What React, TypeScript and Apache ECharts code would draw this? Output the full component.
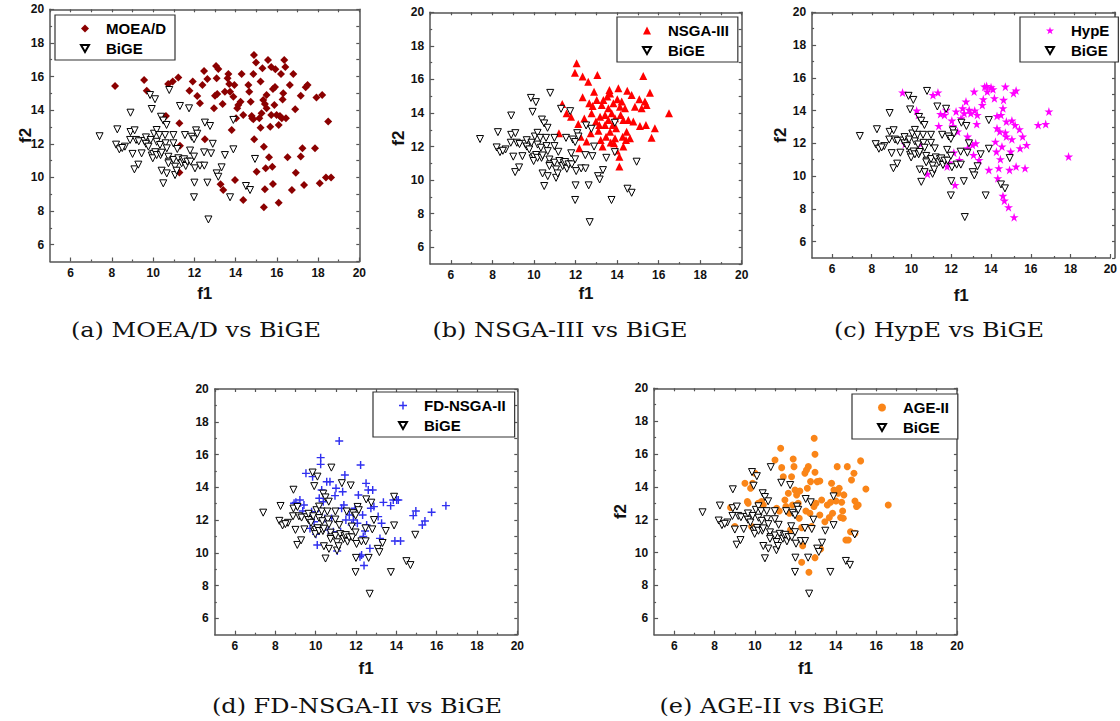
import React, { useEffect, useRef } from 'react';
import * as echarts from 'echarts';

// ---- data (f1, f2) ----
const bigeData: number[][] = [
  [7.4, 12.45], [8.9, 13.85], [8.26, 12.86], [8.2, 11.95], [8.36, 11.67], [8.63, 11.83], [8.5, 11.75],
  [8.88, 12.23], [8.9, 12.7], [9.1, 12.8], [9.0, 11.4], [9.09, 10.48], [9.28, 10.76], [9.17, 12.23],
  [9.3, 12.15], [9.44, 11.43], [9.57, 12.17], [9.65, 12.0], [9.65, 12.38], [9.77, 11.83], [9.85, 14.9],
  [9.93, 14.07], [10.09, 14.65], [9.88, 12.23], [10.04, 12.6], [10.17, 12.82], [9.93, 11.3], [10.0, 11.4],
  [10.1, 11.5], [9.98, 11.14], [10.17, 11.33], [10.36, 11.33], [10.17, 12.12], [10.3, 12.52], [10.33, 11.93],
  [10.38, 13.61], [10.49, 13.38], [10.65, 13.12], [10.41, 10.4], [10.49, 9.65], [10.41, 11.47], [10.6, 12.03],
  [10.58, 12.52], [10.66, 10.24], [10.74, 11.23], [10.77, 10.94], [10.74, 10.84], [10.66, 11.73], [10.78, 15.2],
  [10.98, 12.52], [10.98, 12.03], [10.98, 11.04], [11.06, 10.64], [11.06, 10.14], [11.14, 10.4], [11.17, 11.69],
  [11.22, 11.14], [11.3, 14.25], [11.38, 10.84], [11.43, 11.04], [11.5, 11.08], [11.54, 12.52], [11.58, 10.68],
  [11.66, 10.94], [11.74, 14.11], [11.79, 11.6], [11.82, 10.94], [11.87, 12.42], [11.98, 12.27], [11.98, 11.24],
  [12.03, 10.54], [12.0, 9.69], [11.98, 8.82], [12.08, 12.8], [12.14, 12.6], [12.27, 10.7], [12.47, 11.49],
  [12.48, 10.7], [12.51, 13.26], [12.63, 9.69], [12.68, 7.5], [12.76, 13.06], [12.81, 11.43], [12.89, 12.0],
  [13.08, 10.24], [13.16, 10.04], [13.32, 10.6], [13.48, 11.33], [13.73, 8.82], [13.89, 13.42], [13.89, 11.67],
  [14.5, 9.49], [14.7, 9.25], [14.94, 11.1],
];

const moeadData: number[][] = [
  [8.15, 15.44], [9.56, 15.8], [9.69, 15.16], [10.62, 13.65], [10.73, 15.56], [10.95, 15.7], [11.22, 15.95],
  [11.27, 13.22], [11.3, 11.89], [11.27, 10.3], [11.76, 15.16], [11.92, 15.7], [12.14, 14.84], [12.27, 14.41],
  [12.39, 15.5], [12.47, 16.33], [12.51, 12.27], [12.63, 15.86], [12.95, 14.11], [13.0, 14.86], [13.08, 15.9],
  [13.11, 14.96], [13.05, 16.63], [13.16, 16.45], [13.27, 9.59], [13.37, 14.37], [13.4, 9.25], [13.48, 15.1],
  [13.61, 15.9], [13.65, 16.15], [13.69, 15.56], [13.73, 15.1], [13.81, 12.82], [13.89, 14.8], [13.94, 15.5],
  [13.97, 9.85], [14.02, 13.52], [14.08, 14.11], [14.13, 14.31], [14.24, 14.5], [14.29, 16.15], [14.37, 13.71],
  [14.37, 8.66], [14.62, 15.5], [14.66, 15.1], [14.73, 14.5], [14.78, 13.65], [14.81, 13.52], [14.86, 13.46],
  [14.89, 17.28], [14.86, 16.15], [14.9, 12.27], [14.99, 16.83], [15.02, 10.34], [15.15, 13.52], [15.21, 15.7],
  [15.21, 12.96], [15.26, 13.81], [15.3, 16.49], [15.34, 14.6], [15.37, 11.83], [15.42, 14.37], [15.37, 8.22],
  [15.42, 9.29], [15.46, 10.54], [15.5, 14.11], [15.5, 14.9], [15.57, 16.98], [15.62, 11.2], [15.68, 13.02],
  [15.73, 16.57], [15.73, 13.71], [15.78, 10.64], [15.81, 9.61], [15.81, 15.26], [15.88, 14.31], [15.91, 15.38],
  [15.93, 16.43], [15.99, 13.71], [16.09, 13.12], [16.09, 8.5], [16.15, 13.65], [16.2, 16.15], [16.24, 13.52],
  [16.28, 14.64], [16.31, 15.0], [16.36, 16.98], [16.41, 16.57], [16.44, 13.52], [16.52, 11.2], [16.63, 15.5],
  [16.73, 9.25], [16.8, 16.15], [16.89, 14.05], [16.92, 10.28], [17.16, 11.24], [17.16, 14.86], [17.24, 11.73],
  [17.32, 9.55], [17.4, 15.36], [17.49, 15.5], [17.85, 11.73], [17.92, 14.76], [18.08, 9.65], [18.2, 14.9],
  [18.38, 10.0], [18.49, 13.32], [18.63, 10.0],
];

const nsga3Data: number[][] = [
  [11.36, 14.54], [11.2, 12.79], [11.57, 13.98], [11.78, 13.78], [11.97, 16.4], [12.05, 16.96], [12.13, 13.35],
  [12.18, 11.9], [12.24, 12.59], [12.34, 16.17], [12.34, 14.94], [12.42, 13.67], [12.53, 12.3], [12.61, 15.87],
  [12.66, 14.58], [12.73, 12.79], [12.82, 14.42], [12.89, 15.27], [12.98, 13.49], [13.02, 14.78], [13.05, 16.27],
  [13.1, 12.95], [13.18, 13.78], [13.21, 12.39], [13.26, 14.48], [13.34, 14.78], [13.42, 13.88], [13.42, 13.29],
  [13.47, 12.59], [13.53, 14.98], [13.58, 14.28], [13.58, 13.59], [13.63, 15.37], [13.66, 15.17], [13.66, 12.89],
  [13.69, 12.24], [13.74, 13.98], [13.79, 13.29], [13.82, 14.58], [13.85, 12.2], [13.9, 13.69], [13.95, 13.09],
  [14.01, 14.82], [14.06, 15.47], [14.11, 11.4], [14.11, 10.81], [14.14, 14.38], [14.17, 13.88], [14.22, 14.68],
  [14.27, 12.59], [14.3, 13.59], [14.38, 14.28], [14.43, 12.39], [14.46, 12.89], [14.49, 15.33], [14.54, 13.59],
  [14.62, 12.49], [14.7, 15.07], [14.78, 13.49], [14.86, 14.38], [15.07, 14.82], [15.1, 13.23], [15.18, 14.28],
  [15.26, 16.21], [15.34, 14.68], [15.39, 13.29], [15.42, 14.48], [15.58, 15.21], [15.66, 12.53], [15.82, 13.09],
  [16.5, 13.98], [12.77, 13.98], [13.14, 13.29], [13.9, 12.49], [14.3, 12.0], [13.98, 11.76], [13.3, 12.0],
];

const hypeData: number[][] = [
  [9.55, 15.1], [9.68, 11.96], [10.26, 14.0], [10.34, 13.73], [10.47, 11.96], [10.8, 10.13], [11.08, 14.95],
  [11.33, 15.1], [11.37, 13.06], [11.46, 13.79], [11.66, 13.73], [11.75, 14.04], [11.79, 10.58], [11.91, 10.82],
  [12.03, 13.39], [12.08, 13.06], [12.13, 11.43], [12.19, 9.46], [12.24, 13.94], [12.32, 12.72], [12.41, 10.98],
  [12.49, 13.53], [12.57, 14.14], [12.65, 13.83], [12.74, 14.55], [12.82, 12.41], [12.82, 11.7], [12.9, 14.04],
  [12.98, 13.83], [13.07, 11.9], [13.12, 11.29], [13.15, 15.16], [13.18, 14.0], [13.23, 12.0], [13.28, 13.18],
  [13.31, 13.73], [13.4, 10.98], [13.56, 14.34], [13.61, 14.69], [13.68, 15.46], [13.78, 15.5], [13.81, 15.16],
  [13.89, 10.38], [14.0, 15.42], [14.1, 15.3], [14.17, 14.75], [14.22, 12.1], [14.27, 11.49], [14.3, 12.92],
  [14.3, 13.67], [14.34, 9.87], [14.39, 10.48], [14.44, 12.72], [14.47, 11.03], [14.5, 13.73], [14.55, 11.8],
  [14.6, 14.14], [14.63, 14.65], [14.6, 8.79], [14.67, 8.5], [14.72, 15.46], [14.72, 12.65], [14.77, 12.41],
  [14.77, 13.33], [14.88, 8.1], [14.93, 10.38], [14.99, 11.49], [15.05, 12.25], [15.05, 13.39], [15.13, 15.06],
  [15.16, 7.49], [15.21, 13.12], [15.26, 15.22], [15.26, 10.58], [15.43, 12.86], [15.46, 11.7], [15.59, 12.41],
  [15.71, 10.48], [15.79, 11.9], [16.37, 13.12], [16.75, 13.18], [16.91, 13.94], [17.9, 11.19],
];

const fdnsga2Data: number[][] = [
  [8.93, 13.02], [9.02, 13.08], [9.09, 12.86], [9.22, 13.22], [9.36, 12.55], [9.42, 12.92], [9.52, 14.85],
  [9.64, 12.31], [9.72, 11.49], [9.8, 12.51], [9.85, 14.65], [9.92, 11.9], [10.02, 11.13], [10.08, 10.48],
  [10.13, 12.72], [10.18, 13.33], [10.25, 15.81], [10.25, 15.4], [10.3, 13.83], [10.38, 13.12], [10.46, 12.1],
  [10.55, 14.34], [10.63, 11.39], [10.71, 14.34], [10.79, 12.1], [10.88, 11.29], [10.96, 13.49], [11.01, 13.94],
  [11.07, 10.11], [11.17, 16.83], [11.24, 11.29], [11.29, 12.72], [11.34, 13.73], [11.4, 12.92], [11.45, 14.75],
  [11.5, 12.0], [11.57, 11.09], [11.67, 12.31], [11.79, 11.7], [11.87, 12.0], [11.95, 12.72], [12.07, 11.8],
  [12.12, 13.53], [12.2, 9.76], [12.23, 15.36], [12.28, 9.87], [12.33, 12.31], [12.36, 10.99], [12.4, 9.22],
  [12.45, 11.33], [12.5, 14.24], [12.53, 11.7], [12.61, 13.83], [12.69, 10.27], [12.74, 12.72], [12.83, 13.83],
  [12.89, 12.82], [13.1, 12.21], [13.19, 10.88], [13.27, 11.8], [13.36, 13.08], [13.72, 12.88], [13.85, 13.22],
  [13.93, 10.72], [14.02, 13.22], [14.1, 13.22], [14.21, 10.72], [14.84, 12.27], [14.97, 12.55], [15.29, 11.7],
  [15.42, 11.94], [15.75, 12.47], [16.46, 12.88],
];

const age2Data: number[][] = [
  [8.79, 12.74], [9.0, 11.58], [9.5, 14.22], [9.62, 13.1], [9.66, 13.0], [9.78, 13.91], [9.83, 11.58],
  [9.88, 14.22], [10.0, 14.83], [10.16, 13.0], [10.32, 13.1], [10.41, 12.9], [10.99, 15.64], [11.07, 12.7],
  [11.2, 12.53], [11.27, 16.35], [11.32, 15.17], [11.4, 14.62], [11.48, 13.2], [11.53, 12.8], [11.65, 13.61],
  [11.7, 12.39], [11.76, 11.38], [11.81, 14.62], [11.86, 12.9], [11.89, 15.7], [11.93, 15.23], [11.98, 13.81],
  [12.06, 13.51], [12.14, 13.0], [12.19, 12.09], [12.22, 13.75], [12.31, 11.52], [12.36, 10.42], [12.31, 9.41],
  [12.47, 14.83], [12.52, 12.53], [12.55, 15.03], [12.59, 13.91], [12.64, 15.23], [12.67, 8.8], [12.72, 12.39],
  [12.75, 14.32], [12.8, 11.58], [12.92, 12.8], [12.93, 16.96], [12.97, 15.98], [12.97, 14.89], [13.02, 13.0],
  [12.97, 9.69], [13.08, 14.32], [13.21, 14.36], [13.21, 12.29], [13.25, 10.22], [13.3, 13.2], [13.46, 11.88],
  [13.58, 12.9], [13.68, 12.13], [13.74, 13.06], [13.79, 14.22], [13.84, 12.39], [13.91, 13.81], [14.01, 13.14],
  [14.07, 15.23], [14.12, 13.61], [14.17, 13.91], [14.24, 12.13], [14.29, 13.06], [14.34, 12.53], [14.37, 12.09],
  [14.4, 13.51], [14.5, 10.77], [14.57, 15.23], [14.62, 10.77], [14.73, 11.27], [14.78, 14.42], [14.9, 14.83],
  [14.95, 13.14], [15.03, 12.8], [15.11, 12.9], [15.23, 15.58], [14.95, 11.17], [15.49, 13.87], [16.6, 12.9],
];

const majorTicks = [6, 8, 10, 12, 14, 16, 18, 20];
const minorTicks = [7, 9, 11, 13, 15, 17, 19];
const captions = [
  '(a) MOEA/D vs BiGE',
  '(b) NSGA-III vs BiGE',
  '(c) HypE vs BiGE',
  '(d) FD-NSGA-II vs BiGE',
  '(e) AGE-II vs BiGE',
];

const STAR = 'path://M50,0 L61.2,34.5 L97.6,34.5 L68.2,55.9 L79.4,90.5 L50,69.1 L20.6,90.5 L31.8,55.9 L2.4,34.5 L38.8,34.5 Z';
const PLUS = 'path://M4.1,0 H5.9 V4.1 H10 V5.9 H5.9 V10 H4.1 V5.9 H0 V4.1 H4.1 Z';
const DOWN_TRI = 'path://M0,0 L10,0 L5,8.66 Z';

const panels = [
  { name: 'MOEA/D', data: moeadData, symbol: 'diamond', size: 8, color: '#8B0000',
    grid: { left: 50.1, top: 9.3, width: 309.2, height: 252.2 }, legend: { left: 55, top: 15 },
    xGap: 23, yGap: 16.5, f2: true, cap: { x: 196, y: 330 } },
  { name: 'NSGA-III', data: nsga3Data, symbol: 'triangle', size: 8, color: '#FF0000',
    grid: { left: 430.2, top: 12.3, width: 311.5, height: 251.8 }, legend: { left: 617, top: 17 },
    xGap: 21, yGap: 23.5, f2: true, cap: { x: 560, y: 330 } },
  { name: 'HypE', data: hypeData, symbol: STAR, size: 9, color: '#FF00FF',
    grid: { left: 812.1, top: 12.3, width: 302.9, height: 245.7 }, legend: { left: 1020, top: 17 },
    xGap: 28.5, yGap: 23.5, f2: true, cap: { x: 939, y: 330 } },
  { name: 'FD-NSGA-II', data: fdnsga2Data, symbol: PLUS, size: 8, color: '#3030F0',
    grid: { left: 214.8, top: 389, width: 302.5, height: 245.7 }, legend: { left: 373, top: 392 },
    xGap: 25, yGap: 23.5, f2: false, cap: { x: 357, y: 706 } },
  { name: 'AGE-II', data: age2Data, symbol: 'circle', size: 7, color: '#FA8518',
    grid: { left: 654.1, top: 388.3, width: 302.8, height: 246.4 }, legend: { left: 852, top: 394 },
    xGap: 25, yGap: 25.5, f2: true, cap: { x: 772, y: 706 } },
];

const SANS = '"Liberation Sans", Arial, sans-serif';
const AXIS_COLOR = '#555';

export default function App() {
  const ref = useRef<HTMLDivElement>(null);

  useEffect(() => {
    if (!ref.current) return;
    const chart = echarts.init(ref.current, undefined, { renderer: 'svg' });

    const grids: any[] = [];
    const xAxes: any[] = [];
    const yAxes: any[] = [];
    const series: any[] = [];
    const legends: any[] = [];
    const graphics: any[] = [];

    const labelStyle = { fontFamily: SANS, fontWeight: 'bold', fontSize: 12, color: '#111' };
    const nameStyle = { fontFamily: SANS, fontWeight: 'bold', fontSize: 17, color: '#111' };

    panels.forEach((p, i) => {
      grids.push({ ...p.grid, show: false });
      grids.push({ ...p.grid, show: false });
      const base = { type: 'value', min: 5, max: 20, splitLine: { show: false } };
      xAxes.push({
        ...base, gridIndex: 2 * i, position: 'bottom',
        axisLine: { show: true, lineStyle: { color: AXIS_COLOR, width: 1.5 } },
        axisTick: { show: true, inside: true, length: 4, customValues: majorTicks, lineStyle: { color: AXIS_COLOR, width: 1.2 } },
        axisLabel: { show: true, customValues: majorTicks, margin: 5, ...labelStyle },
        name: 'f1', nameLocation: 'middle', nameGap: p.xGap, nameMoveOverlap: false, nameTextStyle: nameStyle,
      });
      xAxes.push({
        ...base, gridIndex: 2 * i + 1, position: 'bottom',
        axisLine: { show: false },
        axisTick: { show: true, inside: true, length: 2, customValues: minorTicks, lineStyle: { color: AXIS_COLOR, width: 1.2 } },
        axisLabel: { show: false },
      });
      xAxes.push({
        ...base, gridIndex: 2 * i + 1, position: 'top', interval: 1,
        axisLine: { show: true, lineStyle: { color: AXIS_COLOR, width: 1.5 } },
        axisTick: { show: true, inside: true, length: 3, lineStyle: { color: AXIS_COLOR, width: 1.2 } },
        axisLabel: { show: false },
      });
      yAxes.push({
        ...base, gridIndex: 2 * i, position: 'left',
        axisLine: { show: true, lineStyle: { color: AXIS_COLOR, width: 1.5 } },
        axisTick: { show: true, inside: true, length: 4, customValues: majorTicks, lineStyle: { color: AXIS_COLOR, width: 1.2 } },
        axisLabel: { show: true, customValues: majorTicks, margin: 6, ...labelStyle },
        name: p.f2 ? 'f2' : '', nameLocation: 'middle', nameGap: p.yGap, nameMoveOverlap: false, nameTextStyle: nameStyle,
      });
      yAxes.push({
        ...base, gridIndex: 2 * i + 1, position: 'left',
        axisLine: { show: false },
        axisTick: { show: true, inside: true, length: 2, customValues: minorTicks, lineStyle: { color: AXIS_COLOR, width: 1.2 } },
        axisLabel: { show: false },
      });
      yAxes.push({
        ...base, gridIndex: 2 * i + 1, position: 'right', interval: 1,
        axisLine: { show: true, lineStyle: { color: AXIS_COLOR, width: 1.5 } },
        axisTick: { show: true, inside: true, length: 3, lineStyle: { color: AXIS_COLOR, width: 1.2 } },
        axisLabel: { show: false },
      });

      series.push({
        type: 'scatter', name: p.name, xAxisIndex: 3 * i, yAxisIndex: 3 * i,
        data: p.data, symbol: p.symbol, symbolSize: p.size,
        itemStyle: { color: p.color, opacity: 1 }, z: 2,
      });
      series.push({
        type: 'scatter', name: 'BiGE', xAxisIndex: 3 * i, yAxisIndex: 3 * i,
        data: bigeData, symbol: 'triangle', symbolRotate: 180, symbolSize: 7,
        itemStyle: { color: '#ffffff', borderColor: '#000000', borderWidth: 1, opacity: 1 }, z: 3,
      });

      legends.push({
        orient: 'vertical', left: p.legend.left, top: p.legend.top,
        data: [{ name: p.name }, { name: 'BiGE', icon: DOWN_TRI }], selectedMode: false,
        itemWidth: 8, itemHeight: 8, itemGap: 5,
        padding: [6, 9, 4, 25],
        borderColor: '#333', borderWidth: 1.2, borderRadius: 0,
        backgroundColor: '#fff',
        textStyle: { fontFamily: SANS, fontWeight: 'bold', fontSize: 15, color: '#000', lineHeight: 15, padding: [0, 0, 0, 12] },
      });

      graphics.push({
        type: 'text', x: p.cap.x, y: p.cap.y, scaleX: 1.2, scaleY: 1,
        style: {
          text: captions[i], fill: '#111',
          font: '20px "DejaVu Serif", serif',
          textAlign: 'center', textVerticalAlign: 'middle',
        },
      });
    });

    chart.setOption({
      animation: false,
      backgroundColor: '#ffffff',
      grid: grids,
      xAxis: xAxes,
      yAxis: yAxes,
      series,
      legend: legends,
      graphic: graphics,
    });

    return () => chart.dispose();
  }, []);

  return (
    <div
      ref={ref}
      style={{ position: 'fixed', left: 0, top: 0, width: 1120, height: 721, background: '#fff' }}
    />
  );
}
